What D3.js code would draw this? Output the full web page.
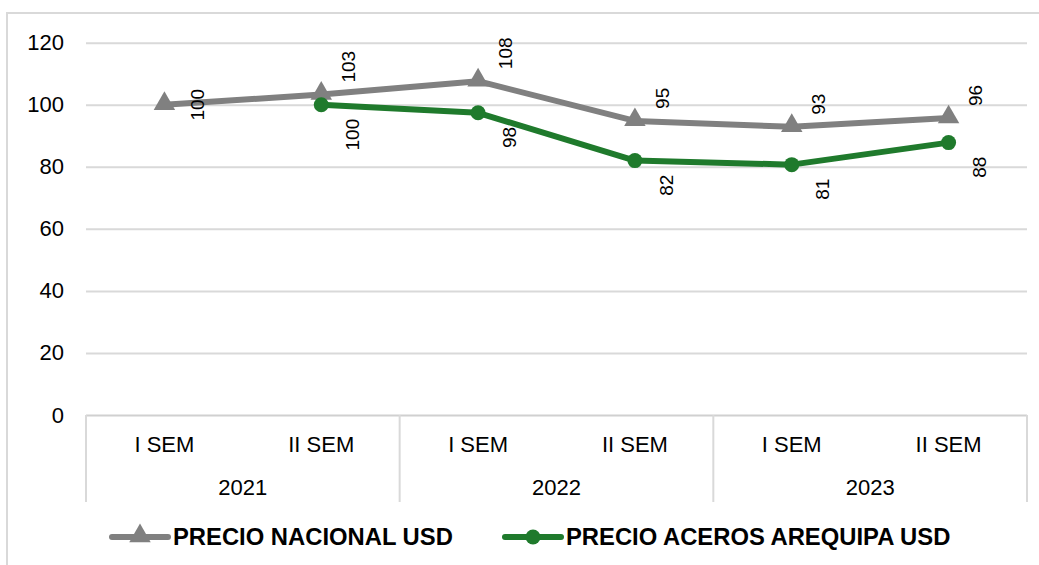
<!DOCTYPE html>
<html>
<head>
<meta charset="utf-8">
<script src="https://cdn.jsdelivr.net/npm/d3@7"></script>
<style>
  body { margin: 0; background: #fff; }
  svg { font-family: "Liberation Sans", Arial, sans-serif; }
</style>
</head>
<body>
<div id="canvas"></div>
<script>
// datos del gráfico
const semestres = ["I SEM", "II SEM", "I SEM", "II SEM", "I SEM", "II SEM"];
const anios = ["2021", "2022", "2023"];
const precioNacional = [100, 103.3, 107.6, 94.8, 92.9, 95.7];
const precioAceros = [null, 100, 97.4, 82, 80.7, 87.8];
const etiquetasNacional = ["100", "103", "108", "95", "93", "96"];
const etiquetasAceros = ["", "100", "98", "82", "81", "88"];
const yTicks = [0, 20, 40, 60, 80, 100, 120];
// posición de etiquetas (estilo)
const posNacional = ["right", "above", "above", "above", "above", "above"];

const width = 1039, height = 565;
const mLeft = 86, mRight = 1027, mTop = 42.7, mBottom = 415;
const gris = "#808080", verde = "#1f7a2c", grid = "#d9d9d9";

const svg = d3.select('#canvas').append('svg')
    .attr('width', width)
    .attr('height', height);

// borde del gráfico
svg.append('rect')
    .attr('x', 7).attr('y', 13)
    .attr('width', width + 10).attr('height', height + 10)
    .attr('fill', 'none')
    .attr('stroke', grid)
    .attr('stroke-width', 2);

let yScale = d3.scaleLinear()
    .domain([0, 120])
    .range([mBottom, mTop]);

let xScale = d3.scaleBand()
    .domain(d3.range(semestres.length))
    .range([mLeft, mRight]);

let yearScale = d3.scaleBand()
    .domain(anios)
    .range([mLeft, mRight]);

// grilla y etiquetas del eje y
let yAxis = svg.append('g')
    .attr('transform', `translate(${mLeft},0)`)
    .call(d3.axisLeft(yScale).tickValues(yTicks).tickSize(-(mRight - mLeft)).tickPadding(22));
yAxis.select('.domain').remove();
yAxis.selectAll('.tick line')
    .attr('stroke', d => d === 0 ? '#d0d0d0' : grid)
    .attr('stroke-width', 2);
yAxis.selectAll('.tick text')
    .attr('font-size', 22)
    .attr('fill', '#000')
    .attr('font-family', '"Liberation Sans", Arial, sans-serif');

// eje de categorías
let xAxis = svg.append('g').attr('transform', `translate(0,${mBottom})`);
const sep = d3.range(0, semestres.length + 1, 2).map(i => i < semestres.length ? xScale(i) : mRight);
xAxis.selectAll('line.sep').data(sep).enter().append('line')
    .attr('class', 'sep')
    .attr('x1', d => d).attr('x2', d => d)
    .attr('y1', 0).attr('y2', 87)
    .attr('stroke', grid).attr('stroke-width', 2);
xAxis.selectAll('text.sem').data(semestres).enter().append('text')
    .attr('class', 'sem')
    .attr('x', (d, i) => xScale(i) + xScale.bandwidth() / 2)
    .attr('y', 37)
    .attr('text-anchor', 'middle')
    .attr('font-size', 22)
    .text(d => d);
xAxis.selectAll('text.anio').data(anios).enter().append('text')
    .attr('class', 'anio')
    .attr('x', d => yearScale(d) + yearScale.bandwidth() / 2)
    .attr('y', 80)
    .attr('text-anchor', 'middle')
    .attr('font-size', 22)
    .text(d => d);

const cx = i => xScale(i) + xScale.bandwidth() / 2;
const linea = d3.line()
    .defined(d => d != null)
    .x((d, i) => cx(i))
    .y(d => yScale(d));

const tri = d3.symbol().type(d3.symbolTriangle).size(200);

// serie nacional
svg.append('path')
    .datum(precioNacional)
    .attr('d', linea)
    .attr('fill', 'none')
    .attr('stroke', gris)
    .attr('stroke-width', 6)
    .attr('stroke-linejoin', 'round');
svg.selectAll('path.tri').data(precioNacional).enter().append('path')
    .attr('class', 'tri')
    .attr('d', tri)
    .attr('fill', gris)
    .attr('transform', (d, i) => `translate(${cx(i)},${yScale(d) - 1})`);

// serie aceros arequipa
svg.append('path')
    .datum(precioAceros)
    .attr('d', linea)
    .attr('fill', 'none')
    .attr('stroke', verde)
    .attr('stroke-width', 6)
    .attr('stroke-linejoin', 'round');
svg.selectAll('circle.pt').data(precioAceros.map((v, i) => ({v, i})).filter(d => d.v != null))
    .enter().append('circle')
    .attr('class', 'pt')
    .attr('cx', d => cx(d.i))
    .attr('cy', d => yScale(d.v))
    .attr('r', 7.5)
    .attr('fill', verde);

// etiquetas de datos (rotadas)
svg.selectAll('text.lblN').data(precioNacional).enter().append('text')
    .attr('class', 'lblN')
    .attr('transform', (d, i) => posNacional[i] === 'right'
        ? `translate(${cx(i) + 33},${yScale(d)}) rotate(-90)`
        : `translate(${cx(i) + 27},${yScale(d) - 12}) rotate(-90)`)
    .attr('text-anchor', (d, i) => posNacional[i] === 'right' ? 'middle' : 'start')
    .attr('dy', '0.35em')
    .attr('font-size', 19)
    .attr('fill', '#000')
    .text((d, i) => etiquetasNacional[i]);

svg.selectAll('text.lblA').data(precioAceros.map((v, i) => ({v, i})).filter(d => d.v != null))
    .enter().append('text')
    .attr('class', 'lblA')
    .attr('transform', d => `translate(${cx(d.i) + 31},${yScale(d.v) + 14}) rotate(-90)`)
    .attr('text-anchor', 'end')
    .attr('dy', '0.35em')
    .attr('font-size', 19)
    .attr('fill', '#000')
    .text(d => etiquetasAceros[d.i]);

// leyenda
const leyenda = [
    {nombre: "PRECIO NACIONAL USD", color: gris, tipo: 'tri', x: 112},
    {nombre: "PRECIO ACEROS AREQUIPA USD", color: verde, tipo: 'circ', x: 505}
];
const ly = 537;
let lg = svg.selectAll('g.ley').data(leyenda).enter().append('g')
    .attr('class', 'ley')
    .attr('transform', d => `translate(${d.x},${ly})`);
lg.append('line')
    .attr('x1', 0).attr('x2', 56)
    .attr('y1', 0).attr('y2', 0)
    .attr('stroke', d => d.color)
    .attr('stroke-width', 6)
    .attr('stroke-linecap', 'round');
lg.filter(d => d.tipo === 'tri').append('path')
    .attr('d', tri)
    .attr('fill', d => d.color)
    .attr('transform', 'translate(28,-1)');
lg.filter(d => d.tipo === 'circ').append('circle')
    .attr('cx', 28).attr('cy', 0).attr('r', 7.5)
    .attr('fill', d => d.color);
lg.append('text')
    .attr('x', 61)
    .attr('y', 0)
    .attr('dy', '0.35em')
    .attr('font-size', 23.8)
    .attr('font-weight', 'bold')
    .attr('fill', '#000')
    .text(d => d.nombre);
</script>
</body>
</html>
